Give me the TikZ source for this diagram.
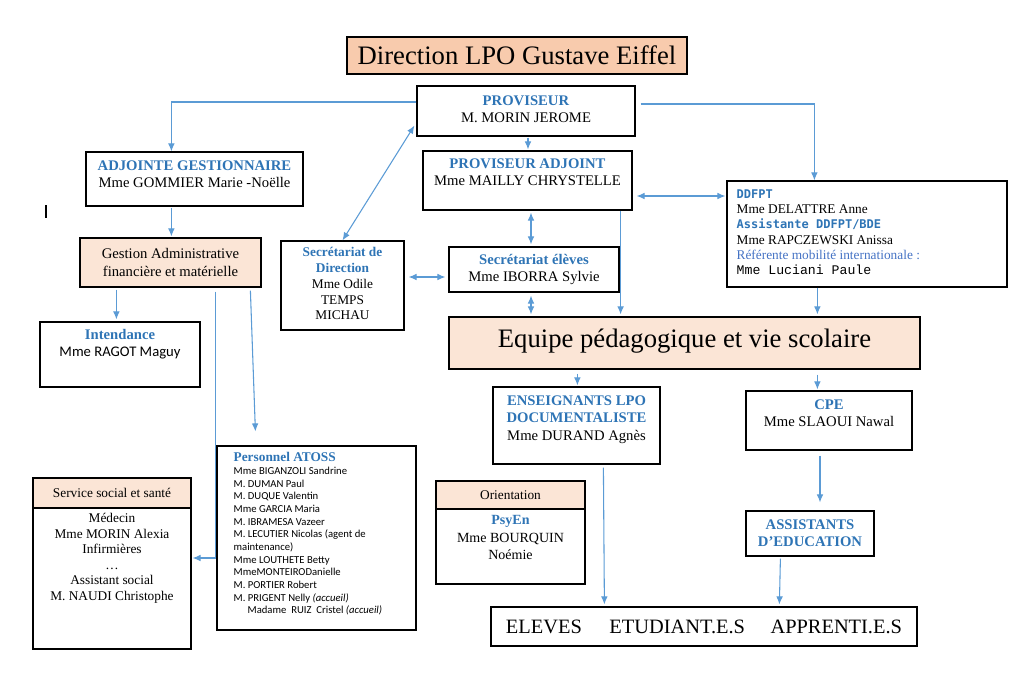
\documentclass[tikz,border=0pt]{standalone}
\usepackage{fontspec}
\setmainfont{Liberation Serif}
\newfontfamily\calibri{Carlito}
\newfontfamily\consolas{DejaVu Sans Mono}
\newfontfamily\courier{Liberation Mono}
\usetikzlibrary{arrows.meta,calc,fit}

\definecolor{titlepeach}{HTML}{F8CBAD}
\definecolor{lightpeach}{HTML}{FBE5D6}
\definecolor{wordblue}{HTML}{2E74B5}
\definecolor{linkblue}{HTML}{4472C4}
\definecolor{arrowblue}{HTML}{5B9BD5}

\newcommand\hd[1]{\textcolor{wordblue}{\textbf{#1}}}
\newcommand\monohd[1]{{\consolas\bfseries\fontsize{9}{11.4}\selectfont\color{wordblue}#1}}

\tikzset{
  box/.style={draw=black, line width=0.9pt, inner sep=0pt},
  peach/.style={box, fill=lightpeach},
  conn/.style={draw=arrowblue, line width=0.8pt, -{Latex[length=6pt,width=5pt]}},
  biconn/.style={conn, {Latex[length=6pt,width=5pt]}-{Latex[length=6pt,width=5pt]}},
  txt/.style={align=center, inner sep=0pt, font=\fontsize{11}{13}\selectfont},
}

\begin{document}
\begin{tikzpicture}[x=0.75pt, y=-0.75pt]
    \useasboundingbox (0,0) rectangle (1011,683);

    % white boxes (corners in pixels)
    \foreach \n/\xa/\ya/\xb/\yb in {prov/417/86/635/136, provadj/423/151/632/210,
        adjg/86/152/303/206, secdir/281/241/404/330, secel/449/247/619/292,
        ddfpt/727/181/1007/287, intend/40/322/200/387, ens/493/387/660/464,
        cpe/746/391/912/450, atoss/217/446/416/630, social/33/508/191/649,
        orient/436/509/585/584, assed/746/511/874/556, eleves/491/607/917/646} {
        \node[box, fit={(\xa,\ya) (\xb,\yb)}] (\n) {};
    }
    % coloured boxes
    \node[box, fill=titlepeach, fit={(347,37) (687,74)}] (title) {};
    \foreach \n/\xa/\ya/\xb/\yb in {gest/80/238/261/287, equipe/449/317/920/369,
        socialh/33/478/191/508, orienth/436/481/585/509} {
        \node[peach, fit={(\xa,\ya) (\xb,\yb)}] (\n) {};
    }

    % texts
    \node[txt, font=\fontsize{20}{24}\selectfont] (title-t) at (title.center) {Direction LPO Gustave Eiffel};
    \node[txt] (prov-t) at ($(prov.center)+(0,-2)$) {\hd{PROVISEUR}\\M. MORIN JEROME};
    \node[txt, anchor=north] (provadj-t) at ($(provadj.north)+(0,8)$) {\hd{PROVISEUR ADJOINT}\\Mme MAILLY CHRYSTELLE};
    \node[txt, anchor=north] (adjg-t) at ($(adjg.north)+(0,9)$) {\hd{ADJOINTE GESTIONNAIRE}\\Mme GOMMIER Marie -Noëlle};
    \node[txt] (gest-t) at (gest.center) {Gestion Administrative\\financière et matérielle};
    \node[txt, anchor=north, font=\fontsize{10}{11.8}\selectfont] (secdir-t) at ($(secdir.north)+(0,7)$)
        {\hd{Secrétariat de}\\\hd{Direction}\\Mme Odile\\TEMPS\\MICHAU};
    \node[txt] (secel-t) at (secel.center) {\hd{Secrétariat élèves}\\Mme IBORRA Sylvie};
    \node[txt, align=left, anchor=north west, font=\fontsize{10}{11.4}\selectfont] (ddfpt-t) at ($(ddfpt.north west)+(10,9)$)
        {\monohd{DDFPT}\\Mme DELATTRE Anne\\\monohd{Assistante DDFPT/BDE}\\Mme RAPCZEWSKI Anissa\\
         \textcolor{linkblue}{Référente mobilité internationale :}\\{\courier\fontsize{9.9}{11.4}\selectfont Mme Luciani Paule}};
    \node[txt, anchor=north, font=\fontsize{11}{12.5}\selectfont] (intend-t) at ($(intend.north)+(0,8)$)
        {\hd{Intendance}\\{\calibri Mme RAGOT Maguy}};
    \node[txt, font=\fontsize{20}{24}\selectfont] (equipe-t) at ($(equipe.center)+(0,-2)$) {Equipe pédagogique et vie scolaire};
    \node[txt, anchor=north] (ens-t) at ($(ens.north)+(0,9)$) {\hd{ENSEIGNANTS LPO}\\\hd{DOCUMENTALISTE}\\Mme DURAND Agnès};
    \node[txt, anchor=north] (cpe-t) at ($(cpe.north)+(0,9)$) {\hd{CPE}\\Mme SLAOUI Nawal};
    \node[txt, align=left, anchor=north west, font=\calibri\fontsize{8}{9.5}\selectfont] (atoss-t) at ($(atoss.north west)+(17,7)$)
        {{\rmfamily\fontsize{10}{12}\selectfont\hd{Personnel ATOSS}}\\
         Mme BIGANZOLI Sandrine\\M. DUMAN Paul\\M. DUQUE Valentin\\Mme GARCIA Maria\\
         M. IBRAMESA Vazeer\\M. LECUTIER Nicolas (agent de\\maintenance)\\Mme LOUTHETE Betty\\
         MmeMONTEIRODanielle\\M. PORTIER Robert\\M. PRIGENT Nelly \textit{(accueil)}\\
         \hspace*{10.5pt}Madame\ \ RUIZ\ \ Cristel \textit{(accueil)}};
    \node[txt, font=\fontsize{10}{12}\selectfont] (socialh-t) at (socialh.center) {Service social et santé};
    \node[txt, anchor=north, font=\fontsize{10}{11.6}\selectfont] (social-t) at ($(social.north)+(0,6)$)
        {Médecin\\Mme MORIN Alexia\\Infirmières\\\ldots\\Assistant social\\M. NAUDI Christophe};
    \node[txt, font=\fontsize{10}{12}\selectfont] (orienth-t) at (orienth.center) {Orientation};
    \node[txt, anchor=north, font=\fontsize{10.5}{13}\selectfont] (orient-t) at ($(orient.north)+(0,7)$)
        {\hd{PsyEn}\\Mme BOURQUIN\\Noémie};
    \node[txt] (assed-t) at (assed.center) {\hd{ASSISTANTS}\\\hd{D’EDUCATION}};
    \node[txt, font=\fontsize{15.3}{18}\selectfont] (eleves-t) at (eleves.center)
        {ELEVES\hspace{1.35em}ETUDIANT.E.S\hspace{1.25em}APPRENTI.E.S};

    % connectors
    \draw[conn] ($(prov.west)+(0,-9)$) -| ($(adjg.north west)+(86,0)$);
    \draw[conn] ($(prov.east)+(5,-7)$) -| ($(ddfpt.north west)+(88,0)$);
    \draw[conn] ($(prov.south)+(2,1)$) -- ($(provadj.north)+(0.5,-1)$);
    \draw[biconn] (secdir.north) -- ($(prov.south west)+(-2,-11)$);
    \draw[biconn] ($(provadj.east)+(4,15.5)$) -- ($(provadj.east -| ddfpt.west)+(-1,15.5)$);
    \draw[biconn] ($(provadj.south)+(3.5,2)$) -- ($(secel.north)+(-3,-2)$);
    \draw[biconn] ($(secdir.east)+(4,-8.5)$) -- ($(secel.west)+(-3,7.5)$);
    \draw[biconn] ($(secel.south)+(-3,3)$) -- ($(secel.south |- equipe.north)+(-3,-2)$);
    \draw[conn] ($(provadj.south east)+(-12,0)$) -- ($(provadj.south east |- equipe.north)+(-12,-2)$);
    \draw[conn] ($(ddfpt.south west)+(91,0)$) -- ($(ddfpt.south west |- equipe.north)+(91,-2)$);
    \draw[conn] ($(equipe.south -| ens.north west)+(85,4)$) -- ($(ens.north west)+(85,-1)$);
    \draw[conn] ($(equipe.south -| cpe.north west)+(72,5)$) -- ($(cpe.north west)+(72,-1)$);
    \draw[conn] ($(cpe.south)+(-9,5)$) -- ($(assed.north)+(10,-8)$);
    \draw[conn] ($(assed.south west)+(35,2)$) -- ($(eleves.north west)+(289,-2)$);
    \draw[conn] ($(ens.south west)+(111,3)$) -- ($(eleves.north west)+(114,-2)$);
    \draw[conn] ($(adjg.south west)+(86,1)$) -- ($(gest.north west)+(92,-1)$);
    \draw[conn] ($(gest.south west)+(37,2)$) -- ($(intend.north west)+(77,-2)$);
    \draw[conn] ($(gest.south west)+(136,4)$) |- ($(social.east)+(1,-20.5)$);
    \draw[conn] ($(gest.south west)+(171,3)$) -- ($(atoss.north west)+(39,-14)$);

    % stray text cursor
    \draw[line width=0.8pt] (46,205) -- (46,218);
\end{tikzpicture}
\end{document}
